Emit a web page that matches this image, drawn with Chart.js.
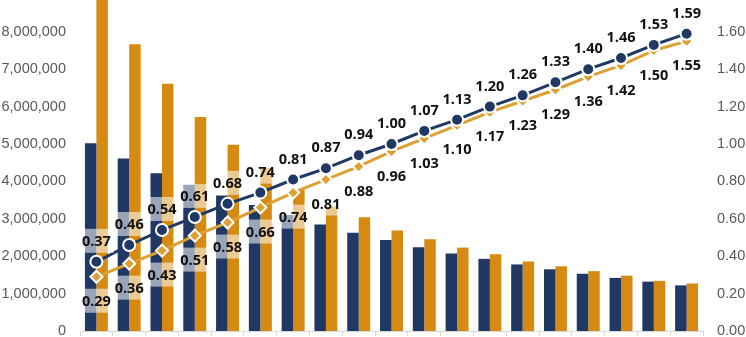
<!DOCTYPE html>
<html>
<head>
<meta charset="utf-8">
<script src="https://cdn.jsdelivr.net/npm/chart.js@4.4.1/dist/chart.umd.min.js"></script>
<style>
  html, body { margin: 0; padding: 0; background: #fff; overflow: hidden; }
  #wrap { position: relative; width: 746px; height: 337px; }
</style>
</head>
<body>
<div id="wrap"><canvas id="chart" width="746" height="337"></canvas></div>
<script>
// ---------- data ----------
const categories = ['1','2','3','4','5','6','7','8','9','10','11','12','13','14','15','16','17','18','19'];
const navyBars = [5020000,4610000,4220000,3910000,3620000,3370000,3100000,2850000,2630000,2430000,2240000,2070000,1930000,1780000,1650000,1530000,1420000,1320000,1220000];
const orangeBars = [8900000,7670000,6610000,5720000,4980000,4350000,3780000,3330000,3040000,2690000,2450000,2230000,2050000,1860000,1730000,1600000,1480000,1340000,1270000];
const navyLine = [0.37,0.46,0.54,0.61,0.68,0.74,0.81,0.87,0.94,1.00,1.07,1.13,1.20,1.26,1.33,1.40,1.46,1.53,1.59];
const orangeLine = [0.29,0.36,0.43,0.51,0.58,0.66,0.74,0.81,0.88,0.96,1.03,1.10,1.17,1.23,1.29,1.36,1.42,1.50,1.55];
const leftTicks = [0,1000000,2000000,3000000,4000000,5000000,6000000,7000000,8000000];
const rightTicks = [0,0.2,0.4,0.6,0.8,1.0,1.2,1.4,1.6];

// ---------- colours ----------
const NAVY = '#203864';
const ORANGE = '#D68A12';
const GOLD = '#DDA033';
const AXIS_TEXT = '#595959';

// labels for the two lines, boxed with a see-through white background
const lineLabels = {
  id: 'lineLabels',
  afterDatasetsDraw(chart) {
    const ctx = chart.ctx;
    ctx.save();
    ctx.font = 'bold 14.5px "Open Sans", sans-serif';
    ctx.textAlign = 'center';
    ctx.textBaseline = 'middle';
    chart.data.datasets.forEach((ds, i) => {
      if (ds.type !== 'line') return;
      const meta = chart.getDatasetMeta(i);
      meta.data.forEach((pt, j) => {
        const txt = ds.data[j].toFixed(2);
        const y = pt.y + ds.labelOffset;
        const w = ctx.measureText(txt).width + 6;
        ctx.fillStyle = 'rgba(255,255,255,0.55)';
        ctx.fillRect(pt.x - w / 2, y - 12, w, 24);
        ctx.fillStyle = '#111';
        ctx.fillText(txt, pt.x, y + 1);
      });
    });
    ctx.restore();
  }
};

new Chart(document.getElementById('chart'), {
  data: {
    labels: categories,
    datasets: [
      { type: 'line', data: navyLine, yAxisID: 'y2', order: 0, labelOffset: -21,
        borderColor: NAVY, borderWidth: 3, pointStyle: 'circle', pointRadius: 6,
        pointBackgroundColor: NAVY, pointBorderColor: '#fff', pointBorderWidth: 2 },
      { type: 'line', data: orangeLine, yAxisID: 'y2', order: 1, labelOffset: 24,
        borderColor: GOLD, borderWidth: 3, pointStyle: 'rectRot', pointRadius: 6,
        pointBackgroundColor: GOLD, pointBorderColor: '#fff', pointBorderWidth: 2 },
      { type: 'bar', data: navyBars, yAxisID: 'y', order: 2, backgroundColor: NAVY,
        barPercentage: 1.0, categoryPercentage: 0.7 },
      { type: 'bar', data: orangeBars, yAxisID: 'y', order: 2, backgroundColor: ORANGE,
        barPercentage: 1.0, categoryPercentage: 0.7 }
    ]
  },
  options: {
    responsive: false,
    animation: false,
    devicePixelRatio: 1,
    layout: { padding: 0, autoPadding: false },
    plugins: { legend: { display: false }, tooltip: { enabled: false } },
    scales: {
      x: {
        type: 'category',
        offset: true,
        grid: { display: true, drawOnChartArea: false, drawTicks: true, tickLength: 5, color: '#d9d9d9', offset: true },
        border: { color: '#d9d9d9', width: 1 },
        ticks: { display: false },
        afterFit: s => { s.height = 6; s.paddingLeft = 0; s.paddingRight = 0; }
      },
      y: {
        position: 'left',
        min: 0, max: 8850000,
        grid: { display: false, drawTicks: false },
        border: { display: false },
        afterBuildTicks: s => { s.ticks = leftTicks.map(v => ({ value: v })); },
        ticks: {
          padding: 14,
          color: AXIS_TEXT,
          font: { family: '"Liberation Sans", Arial, sans-serif', size: 14.5 },
          callback: v => v.toLocaleString('en-US')
        },
        afterFit: s => { s.width = 80; s.paddingTop = 0; s.paddingBottom = 0; }
      },
      y2: {
        position: 'right',
        min: 0, max: 1.77,
        grid: { display: false, drawTicks: false },
        border: { display: false },
        afterBuildTicks: s => { s.ticks = rightTicks.map(v => ({ value: v })); },
        ticks: {
          padding: 14,
          color: AXIS_TEXT,
          font: { family: '"Liberation Sans", Arial, sans-serif', size: 14.5 },
          callback: v => Number(v).toFixed(2)
        },
        afterFit: s => { s.width = 43; s.paddingTop = 0; s.paddingBottom = 0; }
      }
    }
  },
  plugins: [lineLabels]
});
</script>
</body>
</html>
